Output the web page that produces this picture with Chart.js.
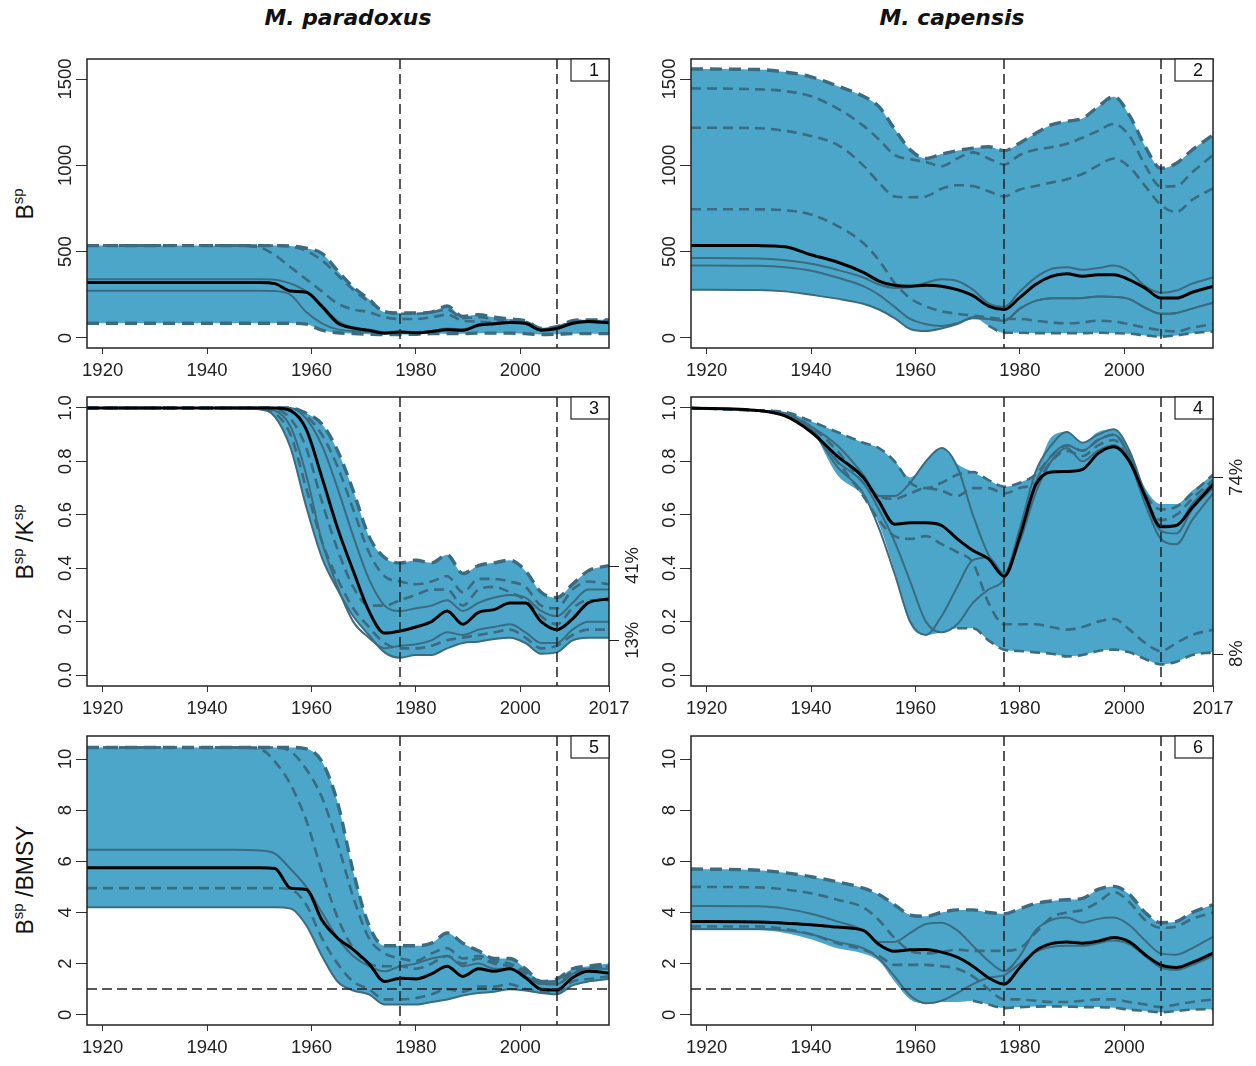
<!DOCTYPE html>
<html>
<head>
<meta charset="utf-8">
<title>Hake spawning biomass</title>
<script src="https://cdn.jsdelivr.net/npm/chart.js@4.4.1/dist/chart.umd.min.js"></script>
<style>
  html,body{margin:0;padding:0;background:#fff;}
  body{position:relative;width:1256px;height:1066px;overflow:hidden;font-family:"Liberation Sans",Arial,sans-serif;color:#111;}
  canvas{position:absolute;}
  .coltitle{position:absolute;top:8px;font:bold italic 21px "DejaVu Sans",sans-serif;line-height:21px;white-space:nowrap;transform:translateX(-50%) scaleX(1.04);}
  .ylab{position:absolute;left:25px;font-size:23px;line-height:23px;white-space:nowrap;transform:translate(-50%,-50%) rotate(-90deg);}
  .ylab sup{font-size:15px;line-height:0;vertical-align:10px;}
</style>
</head>
<body>
<div class="coltitle" style="left:348px">M. paradoxus</div>
<div class="coltitle" style="left:952px">M. capensis</div>
<div class="ylab" style="top:204px">B<sup>sp</sup></div>
<div class="ylab" style="top:542px">B<sup>sp</sup> /K<sup>sp</sup></div>
<div class="ylab" style="top:880px">B<sup>sp</sup> /BMSY</div>
<script>
const YEARS = [1917,1930,1935,1940,1945,1950,1953,1956,1959,1962,1965,1968,1971,1974,1977,1980,1983,1986,1989,1992,1995,1998,2001,2004,2007,2010,2013,2017];

const X_TICKS = [1920,1940,1960,1980,2000];
const X_TICKS_MID = [1920,1940,1960,1980,2000,2017];
const Y_TICKS_B = [0,500,1000,1500];
const Y_LABELS_B = ['0','500','1000','1500'];
const Y_TICKS_K = [0,0.2,0.4,0.6,0.8,1.0];
const Y_LABELS_K = ['0.0','0.2','0.4','0.6','0.8','1.0'];
const Y_TICKS_M = [0,2,4,6,8,10];
const Y_LABELS_M = ['0','2','4','6','8','10'];
const VLINES = [1977, 2007];
const P3_PCT = [0.41, 0.13];
const P3_PCT_LABELS = ['41%','13%'];
const P4_PCT = [0.74, 0.08];
const P4_PCT_LABELS = ['74%','8%'];

// panel 1 : M. paradoxus, B sp
const p1Upper = [535,535,535,535,535,535,535,533,520,490,390,295,225,150,145,145,150,185,125,135,120,110,100,55,65,100,105,105];
const p1Lower = [85,85,85,85,85,85,85,85,80,45,30,25,22,20,20,22,25,25,25,28,28,28,25,20,22,25,25,25];
const p1Black = [322,322,322,322,322,322,315,272,265,183,87,58,45,28,35,30,38,48,45,75,83,90,85,45,55,85,95,88];
const p1Solid1 = [340,340,340,340,340,340,338,315,270,190,100,60,45,35,38,35,40,55,50,75,85,90,85,50,55,85,95,90];
const p1Solid2 = [274,274,274,274,274,274,272,250,150,85,50,40,35,30,32,30,35,45,42,70,80,88,82,45,52,82,92,85];
const p1Dash1 = [535,535,535,535,535,525,480,410,340,270,200,165,150,120,110,110,120,135,100,95,90,95,90,50,60,90,95,95];
const p1Dash2 = [535,535,535,535,535,535,535,530,505,450,365,280,210,155,140,140,148,165,115,120,110,100,95,52,62,95,100,100];

// panel 2 : M. capensis, B sp
const p2Upper = [1558,1555,1540,1513,1460,1400,1340,1210,1090,1040,1065,1085,1100,1108,1085,1130,1185,1234,1255,1272,1340,1398,1290,1110,983,1012,1089,1176];
const p2Lower = [280,278,270,250,228,198,165,115,52,40,55,80,120,70,30,30,28,28,28,28,30,28,25,15,8,15,28,38];
const p2Black = [536,535,528,482,440,380,330,305,300,305,300,280,245,185,165,235,310,357,372,357,366,366,337,289,231,231,265,299];
const p2Solid1 = [463,460,450,430,395,350,310,290,295,320,340,330,280,200,180,270,350,400,410,395,405,420,385,300,262,275,315,350];
const p2Solid2 = [420,418,410,390,350,300,250,180,110,80,70,85,115,110,100,170,215,230,230,232,240,238,225,175,140,145,170,205];
const p2Solid3 = [280,278,270,250,228,198,165,115,52,40,55,80,120,110,100,170,215,230,230,232,240,238,225,175,140,145,170,205];
const p2Dash1 = [1446,1440,1430,1400,1330,1230,1150,1060,1035,1020,995,1040,1075,1040,1005,1060,1090,1105,1125,1160,1200,1240,1170,1000,877,880,960,1060];
const p2Dash2 = [1218,1215,1200,1170,1120,1000,900,820,815,820,865,885,880,850,820,860,880,900,920,950,1000,1040,990,880,771,730,800,867];
const p2Dash3 = [746,745,740,715,650,550,450,320,230,183,155,140,130,120,110,110,100,90,85,90,100,95,80,60,45,38,60,80];
const p2LowDash = [null,null,null,null,null,null,null,null,null,null,null,null,null,70,30,30,28,28,28,28,30,28,25,15,8,15,28,38];

// panel 3 : M. paradoxus, B sp / K sp
const p3Upper = [1,1,1,1,1,1,1,1,0.98,0.94,0.84,0.69,0.52,0.44,0.42,0.43,0.42,0.45,0.38,0.41,0.42,0.43,0.39,0.31,0.29,0.34,0.39,0.41];
const p3Lower = [1,1,1,1,1,0.995,0.967,0.85,0.63,0.44,0.32,0.22,0.15,0.085,0.065,0.075,0.075,0.1,0.12,0.125,0.135,0.14,0.12,0.08,0.085,0.13,0.14,0.14];
const p3Black = [1,1,1,1,1,1,1,0.99,0.92,0.74,0.55,0.39,0.24,0.157,0.165,0.18,0.2,0.24,0.19,0.235,0.245,0.27,0.27,0.2,0.17,0.21,0.27,0.285];
const p3Solid1 = [1,1,1,1,1,1,1,1,0.96,0.86,0.7,0.52,0.36,0.26,0.24,0.25,0.26,0.28,0.24,0.27,0.29,0.3,0.29,0.24,0.22,0.27,0.32,0.32];
const p3Solid2 = [1,1,1,1,1,1,0.99,0.93,0.75,0.5,0.33,0.2,0.14,0.1,0.11,0.115,0.13,0.16,0.15,0.17,0.18,0.19,0.16,0.12,0.12,0.17,0.2,0.2];
const p3Dash1 = [1,1,1,1,1,1,1,1,0.97,0.9,0.78,0.62,0.46,0.37,0.35,0.34,0.35,0.37,0.31,0.36,0.36,0.35,0.33,0.26,0.25,0.32,0.35,0.34];
const p3Dash2 = [1,1,1,1,1,1,0.995,0.96,0.85,0.65,0.47,0.33,0.26,0.26,0.28,0.3,0.32,0.32,0.26,0.32,0.33,0.31,0.28,0.22,0.19,0.25,0.28,0.28];
const p3Dash3 = [1,1,1,1,1,1,0.98,0.9,0.7,0.5,0.36,0.25,0.18,0.12,0.1,0.1,0.11,0.13,0.14,0.15,0.16,0.17,0.14,0.1,0.11,0.15,0.17,0.17];

// panel 4 : M. capensis, B sp / K sp
const p4Upper = [1,0.99,0.985,0.95,0.91,0.87,0.85,0.8,0.74,0.8,0.85,0.79,0.76,0.73,0.705,0.72,0.76,0.89,0.91,0.87,0.91,0.92,0.84,0.7,0.64,0.64,0.69,0.75];
const p4Lower = [1,0.99,0.975,0.92,0.75,0.67,0.565,0.39,0.19,0.15,0.16,0.175,0.175,0.13,0.095,0.09,0.085,0.08,0.07,0.075,0.09,0.095,0.085,0.06,0.04,0.05,0.075,0.085];
const p4Black = [1,0.99,0.97,0.91,0.82,0.74,0.65,0.565,0.57,0.57,0.56,0.51,0.466,0.435,0.37,0.52,0.71,0.76,0.762,0.77,0.83,0.855,0.8,0.67,0.555,0.56,0.627,0.713];
const p4Solid1 = [1,0.99,0.98,0.93,0.86,0.75,0.67,0.67,0.72,0.8,0.85,0.78,0.6,0.45,0.38,0.55,0.76,0.86,0.91,0.87,0.9,0.92,0.84,0.68,0.56,0.56,0.64,0.72];
const p4Solid2 = [1,0.99,0.975,0.92,0.78,0.68,0.55,0.38,0.2,0.15,0.22,0.33,0.43,0.44,0.38,0.5,0.68,0.8,0.85,0.8,0.84,0.86,0.8,0.64,0.51,0.49,0.58,0.68];
const p4Solid3 = [1,0.99,0.975,0.92,0.8,0.72,0.62,0.5,0.35,0.2,0.16,0.19,0.27,0.32,0.36,0.52,0.72,0.82,0.86,0.84,0.88,0.9,0.82,0.66,0.54,0.53,0.62,0.7];
const p4Dash1 = [1,0.99,0.985,0.95,0.91,0.87,0.85,0.8,0.72,0.7,0.72,0.75,0.76,0.73,0.705,0.72,0.75,0.82,0.86,0.84,0.88,0.9,0.82,0.68,0.62,0.63,0.68,0.75];
const p4Dash2 = [1,0.99,0.98,0.93,0.84,0.72,0.67,0.66,0.68,0.7,0.69,0.67,0.7,0.7,0.68,0.7,0.72,0.8,0.84,0.82,0.86,0.88,0.8,0.66,0.58,0.6,0.66,0.73];
const p4Dash3 = [1,0.99,0.98,0.92,0.8,0.67,0.58,0.52,0.51,0.52,0.49,0.46,0.42,0.27,0.19,0.19,0.19,0.18,0.17,0.18,0.2,0.21,0.17,0.12,0.09,0.12,0.15,0.17];
const p4LowDash = [null,null,null,null,null,null,null,null,null,null,null,0.175,0.175,0.13,0.095,0.09,0.085,0.08,0.07,0.075,0.09,0.095,0.085,0.06,0.04,0.05,0.075,0.085];

// panel 5 : M. paradoxus, B sp / BMSY
const p5Upper = [10.45,10.45,10.45,10.45,10.45,10.45,10.45,10.45,10.4,9.9,8.3,5.6,3.5,2.7,2.7,2.7,2.8,3.2,2.8,2.5,2.2,2.2,1.8,1.3,1.4,1.8,1.9,2.0];
const p5Lower = [4.2,4.2,4.2,4.2,4.2,4.2,4.2,4.15,3.5,2.3,1.3,0.95,0.8,0.4,0.4,0.4,0.5,0.6,0.75,0.85,0.9,1.0,0.95,0.85,0.8,1.15,1.3,1.4];
const p5Black = [5.75,5.75,5.75,5.75,5.75,5.75,5.72,4.95,4.9,3.7,3.0,2.55,2.0,1.3,1.43,1.4,1.6,1.9,1.5,1.8,1.7,1.8,1.45,1.0,0.97,1.45,1.7,1.63];
const p5Solid1 = [6.45,6.45,6.45,6.45,6.45,6.42,6.3,5.7,5.0,4.0,3.0,2.3,1.9,1.7,1.9,2.0,2.2,2.3,1.9,2.0,1.8,1.8,1.5,1.2,1.2,1.6,1.8,1.8];
const p5Dash1 = [4.95,4.95,4.95,4.95,4.95,4.95,4.95,4.9,4.3,3.0,2.0,1.3,1.0,0.6,0.6,0.65,0.8,1.0,0.9,1.1,1.1,1.2,1.0,0.9,0.9,1.3,1.4,1.5];
const p5Dash2 = [10.45,10.45,10.45,10.45,10.45,10.4,9.9,9.0,7.6,5.6,3.8,2.6,2.0,1.9,1.9,1.8,2.0,2.3,2.0,2.2,2.0,1.9,1.6,1.2,1.2,1.6,1.8,1.9];
const p5Dash3 = [10.45,10.45,10.45,10.45,10.45,10.45,10.45,10.3,9.6,8.5,6.7,4.6,3.0,2.4,2.2,2.1,2.4,2.6,2.2,2.3,2.1,2.0,1.7,1.3,1.3,1.7,1.8,1.9];

// panel 6 : M. capensis, B sp / BMSY
const p6Upper = [5.7,5.65,5.55,5.4,5.2,4.95,4.7,4.3,3.9,3.85,4.0,4.1,4.1,4.0,3.95,4.15,4.35,4.45,4.5,4.55,4.9,5.02,4.7,4.0,3.6,3.65,4.0,4.3];
const p6Lower = [3.3,3.3,3.2,2.95,2.6,2.4,2.1,1.3,0.6,0.45,0.5,0.5,0.55,0.4,0.26,0.3,0.32,0.33,0.32,0.3,0.3,0.27,0.2,0.15,0.1,0.15,0.2,0.22];
const p6Black = [3.65,3.63,3.58,3.52,3.43,3.3,2.75,2.48,2.54,2.55,2.45,2.25,1.9,1.45,1.2,1.85,2.5,2.78,2.85,2.8,2.88,3.02,2.85,2.35,1.95,1.85,2.05,2.41];
const p6Solid1 = [4.25,4.24,4.15,3.95,3.65,3.3,2.85,2.85,3.2,3.55,3.6,3.3,2.7,2.1,1.7,2.3,3.3,3.7,3.8,3.6,3.75,3.8,3.5,2.9,2.4,2.35,2.6,3.05];
const p6Solid2 = [3.35,3.35,3.3,3.15,2.85,2.6,2.2,1.5,0.75,0.45,0.55,0.85,1.2,1.45,1.55,2.0,2.45,2.65,2.7,2.7,2.8,2.9,2.75,2.3,1.85,1.75,1.95,2.3];
const p6Dash1 = [5.0,4.98,4.9,4.75,4.5,4.2,3.7,3.0,2.5,2.4,2.45,2.55,2.5,2.5,2.5,2.6,3.2,3.8,4.0,4.1,4.4,4.8,4.4,3.7,3.4,3.45,3.75,4.0];
const p6Dash2 = [3.45,3.45,3.35,3.15,2.8,2.55,2.3,1.95,1.95,1.95,1.9,1.8,1.5,1.0,0.6,0.6,0.55,0.5,0.5,0.55,0.6,0.6,0.5,0.4,0.3,0.4,0.5,0.6];
const p6LowDash = [null,null,null,null,null,null,null,null,null,null,null,null,0.55,0.4,0.26,0.3,0.32,0.33,0.32,0.3,0.3,0.27,0.2,0.15,0.1,0.15,0.2,0.22];

const BAND = '#4ca6c9';
const LINE = '#3a6b80';
const COL_LEFT = [87, 691];
const ROW_TOP = [59, 397, 736];
const BOX_W = 522, BOX_H = 289;
const PAD_L = 45, PAD_R = 40, PAD_T = 12, PAD_B = 40;

const panels = [
  {id:1, col:0, row:0, ymin:-58, ymax:1616, yt:Y_TICKS_B, yl:Y_LABELS_B, xt:X_TICKS,
   upper:p1Upper, lower:p1Lower, up:'edge', low:'edge', black:p1Black, solids:[p1Solid1,p1Solid2], dashes:[p1Dash1,p1Dash2]},
  {id:2, col:1, row:0, ymin:-58, ymax:1616, yt:Y_TICKS_B, yl:Y_LABELS_B, xt:X_TICKS,
   upper:p2Upper, lower:p2Lower, up:'edge', low:'none', black:p2Black, solids:[p2Solid1,p2Solid2,p2Solid3], dashes:[p2Dash1,p2Dash2,p2Dash3,p2LowDash]},
  {id:3, col:0, row:1, ymin:-0.041, ymax:1.041, yt:Y_TICKS_K, yl:Y_LABELS_K, xt:X_TICKS_MID,
   upper:p3Upper, lower:p3Lower, up:'edge', low:'solid', black:p3Black, solids:[p3Solid1,p3Solid2], dashes:[p3Dash1,p3Dash2,p3Dash3],
   pct:P3_PCT, pctLabels:P3_PCT_LABELS},
  {id:4, col:1, row:1, ymin:-0.041, ymax:1.041, yt:Y_TICKS_K, yl:Y_LABELS_K, xt:X_TICKS_MID,
   upper:p4Upper, lower:p4Lower, up:'none', low:'none', black:p4Black, solids:[p4Solid1,p4Solid2,p4Solid3], dashes:[p4Dash1,p4Dash2,p4Dash3,p4LowDash],
   pct:P4_PCT, pctLabels:P4_PCT_LABELS},
  {id:5, col:0, row:2, ymin:-0.4, ymax:10.9, yt:Y_TICKS_M, yl:Y_LABELS_M, xt:X_TICKS,
   upper:p5Upper, lower:p5Lower, up:'edge', low:'solid', black:p5Black, solids:[p5Solid1], dashes:[p5Dash1,p5Dash2,p5Dash3], hline:1},
  {id:6, col:1, row:2, ymin:-0.4, ymax:10.9, yt:Y_TICKS_M, yl:Y_LABELS_M, xt:X_TICKS,
   upper:p6Upper, lower:p6Lower, up:'edge', low:'none', black:p6Black, solids:[p6Solid1,p6Solid2], dashes:[p6Dash1,p6Dash2,p6LowDash], hline:1}
];

function pts(arr) {
  return YEARS.map((yr, i) => ({x: yr, y: arr[i]}));
}

function lineDs(arr, kind, order) {
  const ds = {data: pts(arr), borderColor: LINE, borderWidth: 2, pointRadius: 0, fill: false,
              cubicInterpolationMode: 'monotone', order: order};
  if (kind === 'dash') { ds.borderDash = [10, 6]; ds.borderWidth = 2.6; }
  if (kind === 'edge') { ds.borderDash = [12, 7]; ds.borderWidth = 3.4; }
  if (kind === 'none') { ds.borderWidth = 0; ds.borderColor = 'rgba(0,0,0,0)'; }
  if (kind === 'black') { ds.borderColor = '#000'; ds.borderWidth = 3; }
  return ds;
}

function rotText(ctx, s, bx, cy) {
  ctx.save();
  ctx.translate(bx, cy);
  ctx.rotate(-Math.PI / 2);
  ctx.textAlign = 'center';
  ctx.textBaseline = 'alphabetic';
  ctx.fillText(s, 0, 0);
  ctx.restore();
}

function deco(p) {
  return {
    id: 'deco' + p.id,
    afterDatasetsDraw(chart) {
      const {ctx, chartArea: a, scales: {x, y}} = chart;
      ctx.save();
      ctx.strokeStyle = '#222';
      ctx.lineWidth = 1.5;
      ctx.setLineDash([10, 5]);
      VLINES.forEach(v => {
        const px = Math.round(x.getPixelForValue(v));
        ctx.beginPath(); ctx.moveTo(px, a.top); ctx.lineTo(px, a.bottom); ctx.stroke();
      });
      if (p.hline !== undefined) {
        const py = Math.round(y.getPixelForValue(p.hline));
        ctx.beginPath(); ctx.moveTo(a.left, py); ctx.lineTo(a.right, py); ctx.stroke();
      }
      ctx.setLineDash([]);
      ctx.strokeRect(a.left, a.top, a.right - a.left, a.bottom - a.top);

      // panel number
      ctx.fillStyle = '#fff';
      ctx.fillRect(a.right - 38, a.top, 38, 22);
      ctx.lineWidth = 1.2;
      ctx.strokeRect(a.right - 38, a.top, 38, 22);
      ctx.fillStyle = '#111';
      ctx.font = '18px "Liberation Sans", Arial, sans-serif';
      ctx.textAlign = 'center';
      ctx.textBaseline = 'middle';
      ctx.fillText(String(p.id), a.right - 15, a.top + 12);

      // y tick labels, parallel to the axis
      ctx.font = '18.5px "Liberation Sans", Arial, sans-serif';
      ctx.fillStyle = '#222';
      p.yt.forEach((v, i) => rotText(ctx, p.yl[i], a.left - 16, y.getPixelForValue(v)));

      // final-year percentages on the right
      if (p.pct) {
        ctx.lineWidth = 1;
        p.pct.forEach((v, i) => {
          const py = Math.round(y.getPixelForValue(v)) + 0.5;
          ctx.beginPath(); ctx.moveTo(a.right, py); ctx.lineTo(a.right + 10, py); ctx.stroke();
          rotText(ctx, p.pctLabels[i], a.right + 29, y.getPixelForValue(v));
        });
      }
      ctx.restore();
    }
  };
}

panels.forEach(p => {
  const cv = document.createElement('canvas');
  cv.width = BOX_W + PAD_L + PAD_R;
  cv.height = BOX_H + PAD_T + PAD_B;
  cv.style.left = (COL_LEFT[p.col] - PAD_L) + 'px';
  cv.style.top = (ROW_TOP[p.row] - PAD_T) + 'px';
  document.body.appendChild(cv);

  const datasets = [];
  datasets.push(lineDs(p.black, 'black', 0));
  p.solids.forEach(s => datasets.push(lineDs(s, 'solid', 1)));
  p.dashes.forEach(s => datasets.push(lineDs(s, 'dash', 1)));
  const up = lineDs(p.upper, p.up, 2);
  up.fill = '+1';
  up.backgroundColor = BAND;
  datasets.push(up);
  datasets.push(lineDs(p.lower, p.low, 2));

  new Chart(cv, {
    type: 'line',
    data: {datasets: datasets},
    options: {
      responsive: false,
      animation: false,
      devicePixelRatio: 1,
      events: [],
      layout: {padding: {left: 0, right: PAD_R, top: PAD_T, bottom: 0}},
      plugins: {
        legend: {display: false},
        tooltip: {enabled: false},
        filler: {propagate: false, drawTime: 'beforeDatasetsDraw'}
      },
      scales: {
        x: {
          type: 'linear', min: 1917, max: 2017,
          afterBuildTicks: s => { s.ticks = p.xt.map(v => ({value: v})); },
          afterFit: s => { s.height = PAD_B; },
          border: {display: false},
          grid: {drawOnChartArea: false, tickLength: 6, color: '#333'},
          ticks: {autoSkip: false, maxRotation: 0, padding: 6, color: '#222',
                  font: {family: '"Liberation Sans", Arial, sans-serif', size: 18.5},
                  callback: v => String(v)}
        },
        y: {
          type: 'linear', min: p.ymin, max: p.ymax,
          afterBuildTicks: s => { s.ticks = p.yt.map(v => ({value: v})); },
          afterFit: s => { s.width = PAD_L; },
          border: {display: false},
          grid: {drawOnChartArea: false, tickLength: 11, color: '#333'},
          ticks: {display: false}
        }
      }
    },
    plugins: [deco(p)]
  });
});
</script>
</body>
</html>
